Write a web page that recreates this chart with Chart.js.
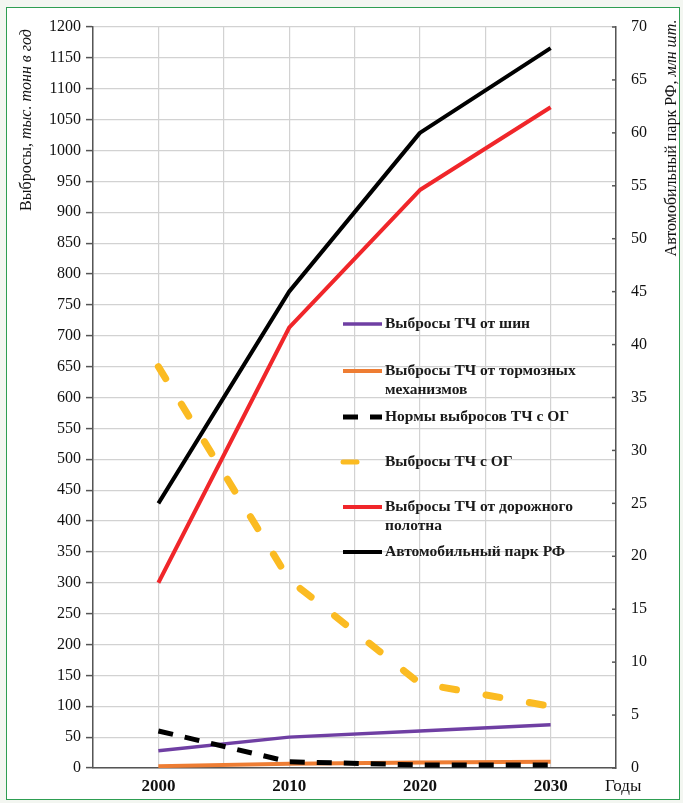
<!DOCTYPE html>
<html>
<head>
<meta charset="utf-8">
<script src="https://cdn.jsdelivr.net/npm/chart.js@4.4.1/dist/chart.umd.min.js"></script>
<style>
  html, body { margin: 0; padding: 0; background: #f3f6f1; }
  #frame { position: absolute; left: 6px; top: 7px; width: 672px; height: 791px;
           border: 1.5px solid #2e9e52; background: #ffffff; }
  #c { position: absolute; left: 0; top: 0; }
</style>
</head>
<body>
<div id="frame"></div>
<canvas id="c" width="683" height="803"></canvas>
<script>
// ---- data ----
const years = [2000, 2010, 2020, 2030];
const xTickLabels = [2000, 2010, 2020, 2030];
const seriesNames = [
  'Выбросы ТЧ от шин',
  'Выбросы ТЧ от тормозных механизмов',
  'Нормы выбросов ТЧ с ОГ',
  'Выбросы ТЧ с ОГ',
  'Выбросы ТЧ от дорожного полотна',
  'Автомобильный парк РФ'
];
const tireEmissions   = [28, 50, 60, 70];
const brakeEmissions  = [3, 7, 9, 10];
const exhaustNorms    = [60, 10, 5, 5];
const exhaustEmissions = [650, 305, 137, 100];
const roadEmissions   = [300, 713, 936, 1070];
const carFleet        = [25, 45, 60, 68];
const leftTitle  = ['Выбросы, ', 'тыс. тонн в год'];
const rightTitle = ['Автомобильный парк РФ, ', 'млн шт.'];
const xTitle = 'Годы';

const pts = arr => years.map((x, i) => ({ x: x, y: arr[i] }));
const SERIF = '"Liberation Serif", "DejaVu Serif", serif';

const datasets = [
  { label: seriesNames[0], data: pts(tireEmissions), borderColor: '#6f3fa3', borderWidth: 3.5, yAxisID: 'y', order: 2 },
  { label: seriesNames[1], data: pts(brakeEmissions), borderColor: '#ee7d33', borderWidth: 4, yAxisID: 'y', order: 3 },
  { label: seriesNames[2], data: pts(exhaustNorms), borderColor: '#000000', borderWidth: 5, borderDash: [15, 12], yAxisID: 'y', order: 1 },
  { label: seriesNames[3], data: pts(exhaustEmissions), borderColor: '#fbbb22', borderWidth: 7, borderDash: [14, 30], borderCapStyle: 'round', yAxisID: 'y', order: 0 },
  { label: seriesNames[4], data: pts(roadEmissions), borderColor: '#f0262a', borderWidth: 4, yAxisID: 'y', order: 4 },
  { label: seriesNames[5], data: pts(carFleet), borderColor: '#000000', borderWidth: 4, yAxisID: 'y1', order: 5 }
];
datasets.forEach(d => { d.pointRadius = 0; d.tension = 0; d.fill = false; d.borderJoinStyle = 'round'; });

const extras = {
  id: 'extras',
  afterDraw(chart) {
    const ctx = chart.ctx;
    const ca = chart.chartArea;
    const y1 = chart.scales.y1;
    ctx.save();
    // inside ticks on right axis
    ctx.strokeStyle = '#555';
    ctx.lineWidth = 1.5;
    y1.ticks.forEach(t => {
      const py = y1.getPixelForValue(t.value);
      ctx.beginPath(); ctx.moveTo(ca.right - 4, py); ctx.lineTo(ca.right, py); ctx.stroke();
    });
    // axis titles
    ctx.fillStyle = '#111';
    ctx.textBaseline = 'middle';
    function rotTitle(parts, cx, cy) {
      ctx.save();
      ctx.translate(cx, cy);
      ctx.rotate(-Math.PI / 2);
      const f0 = '16px ' + SERIF, f1 = 'italic 16px ' + SERIF;
      ctx.font = f0; const w0 = ctx.measureText(parts[0]).width;
      ctx.font = f1; const w1 = ctx.measureText(parts[1]).width;
      let x = -(w0 + w1) / 2;
      ctx.textAlign = 'left';
      ctx.font = f0; ctx.fillText(parts[0], x, 0);
      ctx.font = f1; ctx.fillText(parts[1], x + w0, 0);
      ctx.restore();
    }
    rotTitle(leftTitle, 27, 120);
    rotTitle(rightTitle, 672, 138);
    ctx.font = '17px ' + SERIF;
    ctx.textAlign = 'left';
    ctx.fillText(xTitle, 605, 787);

    // legend
    const rows = [324, 371, 417, 462, 507, 552];
    const lx0 = 343, lx1 = 382, tx = 385;
    ctx.font = 'bold 15.5px ' + SERIF;
    ctx.textAlign = 'left';
    ctx.textBaseline = 'middle';
    chart.data.datasets.forEach((ds, i) => {
      const y = rows[i];
      ctx.save();
      ctx.strokeStyle = ds.borderColor;
      ctx.lineWidth = Math.min(ds.borderWidth, 5);
      ctx.lineCap = ds.borderCapStyle || 'butt';
      ctx.setLineDash(ds.borderDash || []);
      ctx.beginPath(); ctx.moveTo(lx0, y); ctx.lineTo(lx1, y); ctx.stroke();
      ctx.restore();
      // wrap text
      const words = ds.label.split(' ');
      const lines = []; let cur = '';
      words.forEach(w => {
        const test = cur ? cur + ' ' + w : w;
        if (ctx.measureText(test).width > 210 && cur) { lines.push(cur); cur = w; } else cur = test;
      });
      lines.push(cur);
      ctx.fillStyle = '#1a1a1a';
      lines.forEach((ln, k) => ctx.fillText(ln, tx, y + k * 19));
    });
    ctx.restore();
  }
};

new Chart(document.getElementById('c'), {
  type: 'line',
  data: { datasets: datasets },
  options: {
    responsive: false,
    animation: false,
    layout: { padding: { top: 27, left: 0, right: 0, bottom: 0 } },
    plugins: { legend: { display: false }, tooltip: { enabled: false } },
    scales: {
      x: {
        type: 'linear', min: 1995, max: 2035,
        afterFit: s => { s.height = 35; },
        ticks: {
          stepSize: 5, autoSkip: false, maxRotation: 0, padding: 8,
          color: '#111', font: { family: SERIF, size: 17, weight: 'bold' },
          callback: v => xTickLabels.includes(v) ? String(v) : ''
        },
        grid: { color: '#d2d2d2', lineWidth: 1.2, drawTicks: false },
        border: { color: '#555', width: 1.5 }
      },
      y: {
        position: 'left', min: 0, max: 1200,
        afterFit: s => { s.width = 93; },
        ticks: { stepSize: 50, padding: 5, color: '#111', font: { family: SERIF, size: 16 },
                 callback: v => String(v) },
        grid: { color: '#d2d2d2', lineWidth: 1.2, tickColor: '#555', tickLength: 7, tickWidth: 1.5 },
        border: { color: '#555', width: 1.5 }
      },
      y1: {
        position: 'right', min: 0, max: 70,
        afterFit: s => { s.width = 67; },
        ticks: { stepSize: 5, padding: 15, color: '#111', font: { family: SERIF, size: 16 },
                 callback: v => String(v) },
        grid: { drawOnChartArea: false, drawTicks: false },
        border: { color: '#555', width: 1.5 }
      }
    }
  },
  plugins: [extras]
});
</script>
</body>
</html>
